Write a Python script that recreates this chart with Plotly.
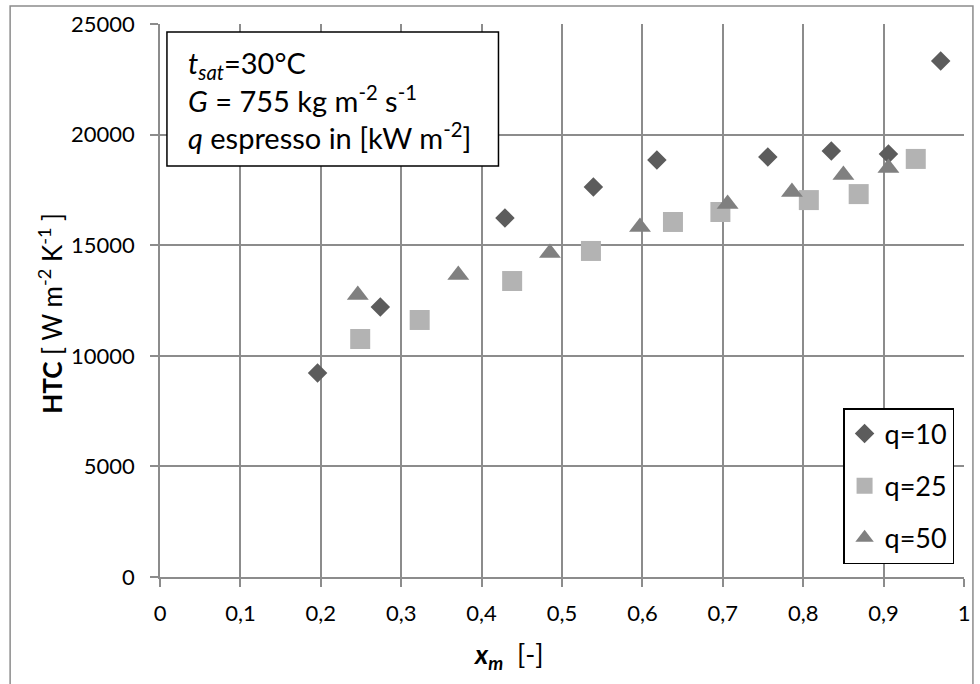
import plotly.graph_objects as go

# ---- data ----
x_q10 = [0.196, 0.274, 0.429, 0.539, 0.618, 0.756, 0.835, 0.906, 0.971]
y_q10 = [9220, 12210, 16230, 17630, 18850, 18990, 19260, 19120, 23330]

x_q25 = [0.249, 0.323, 0.438, 0.536, 0.638, 0.697, 0.807, 0.869, 0.940]
y_q25 = [10760, 11620, 13380, 14740, 16050, 16500, 17040, 17310, 18900]

x_q50 = [0.246, 0.371, 0.485, 0.597, 0.706, 0.786, 0.850, 0.906]
y_q50 = [12750, 13650, 14650, 15820, 16860, 17400, 18170, 18490]

series_names = ["q=10", "q=25", "q=50"]
x_tick_vals = [0, 0.1, 0.2, 0.3, 0.4, 0.5, 0.6, 0.7, 0.8, 0.9, 1]
x_tick_labels = ["0", "0,1", "0,2", "0,3", "0,4", "0,5", "0,6", "0,7", "0,8", "0,9", "1"]
y_tick_vals = [0, 5000, 10000, 15000, 20000, 25000]
y_tick_labels = ["0", "5000", "10000", "15000", "20000", "25000"]

FONT = "Lato, Carlito, Calibri, sans-serif"
GRID = "#8c8c8c"

W, H = 980, 684
L, R, T, B = 160, 10, 24, 107
PW, PH = W - L - R, H - T - B


def px(xp):
    return (xp - L) / PW


def py(yp):
    return (H - B - yp) / PH


fig = go.Figure()
fig.add_trace(go.Scatter(x=x_q10, y=y_q10, mode="markers", name=series_names[0],
                         legendgroup="a",
                         marker=dict(symbol="diamond", size=15, color="#5c5c5c")))
fig.add_trace(go.Scatter(x=x_q25, y=y_q25, mode="markers", name=series_names[1],
                         legendgroup="b",
                         marker=dict(symbol="square", size=20, color="#b3b3b3")))
fig.add_trace(go.Scatter(x=x_q50, y=y_q50, mode="markers", name=series_names[2],
                         legendgroup="c",
                         marker=dict(symbol="triangle-up", size=19, color="#808080")))

fig.update_layout(
    width=W, height=H,
    margin=dict(l=L, r=R, t=T, b=B),
    paper_bgcolor="white", plot_bgcolor="white",
    font=dict(family=FONT, size=22, color="black"),
    separators=",.",
    showlegend=True,
    legend=dict(
        x=px(960), y=py(564), xanchor="right", yanchor="bottom",
        bgcolor="white", bordercolor="black", borderwidth=1.5,
        font=dict(family=FONT, size=27, color="black"),
        tracegroupgap=14, itemwidth=30,
    ),
    xaxis=dict(
        range=[0, 1], tickvals=x_tick_vals, ticktext=x_tick_labels,
        showgrid=True, gridcolor=GRID, gridwidth=1.5,
        showline=True, linecolor=GRID, linewidth=1.5,
        ticks="outside", ticklen=8, tickcolor=GRID, tickwidth=1.5,
        zeroline=False, ticklabelstandoff=8,
        tickfont=dict(family=FONT, size=22, color="black"),
    ),
    yaxis=dict(
        range=[0, 25000], tickvals=y_tick_vals, ticktext=y_tick_labels,
        showgrid=True, gridcolor=GRID, gridwidth=1.5,
        showline=True, linecolor=GRID, linewidth=1.5,
        ticks="outside", ticklen=8, tickcolor=GRID, tickwidth=1.5,
        zeroline=False, ticklabelstandoff=11,
        tickfont=dict(family=FONT, size=22, color="black"),
    ),
)

# outer chart border
fig.add_shape(type="rect", xref="paper", yref="paper",
              x0=px(9), x1=px(979), y0=py(720), y1=py(6),
              line=dict(color="#8c8c8c", width=1.5), fillcolor="rgba(0,0,0,0)",
              layer="above")

# info box
fig.add_shape(type="rect", xref="paper", yref="paper",
              x0=px(167), x1=px(501), y0=py(166), y1=py(32),
              line=dict(color="black", width=1.5), fillcolor="white",
              layer="above")
fig.add_annotation(
    xref="paper", yref="paper", x=px(186), y=py(100), xanchor="left", yanchor="middle",
    align="left", showarrow=False,
    text=("<i>t</i><sub><i>sat</i></sub>=30°C<br>"
          "<i>G</i> = 755 kg m<sup>-2</sup> s<sup>-1</sup><br>"
          "<i>q</i> espresso in [kW m<sup>-2</sup>]"),
    font=dict(family=FONT, size=29, color="black"),
)

# axis titles
fig.add_annotation(
    xref="paper", yref="paper", x=px(49), y=py(313), textangle=-90,
    showarrow=False, xanchor="center", yanchor="middle",
    text="<b>HTC</b> [ W m<sup>-2</sup> K<sup>-1</sup> ]",
    font=dict(family=FONT, size=26, color="black"),
)
fig.add_annotation(
    xref="paper", yref="paper", x=px(511), y=py(655),
    showarrow=False, xanchor="center", yanchor="middle",
    text="<b><i>x<sub>m</sub></i></b>  [-]",
    font=dict(family=FONT, size=27, color="black"),
)

fig.write_html("out.html")
